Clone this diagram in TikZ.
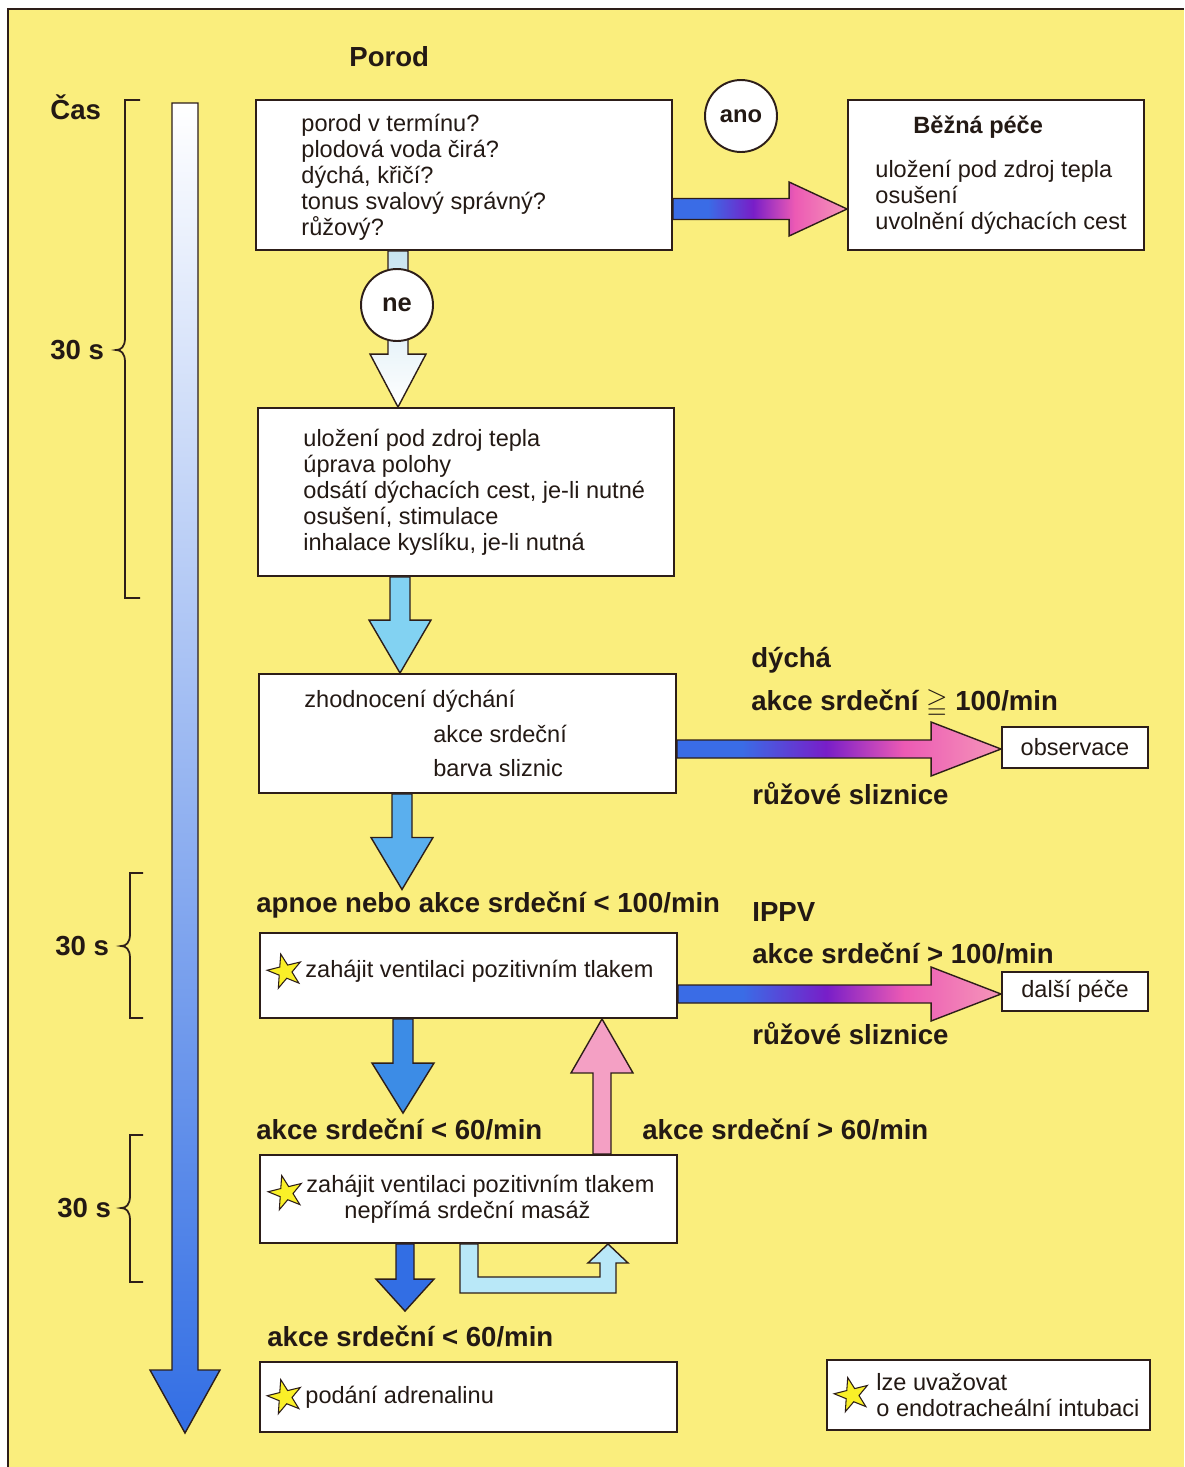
\documentclass[tikz,border=0pt]{standalone}
\usepackage{fontspec}
\setmainfont{Liberation Sans}
\usepackage{amssymb}
\usetikzlibrary{calc,positioning,shapes.geometric}

\definecolor{bgyellow}{RGB}{250,238,125}
\definecolor{edge}{RGB}{45,30,25}
\definecolor{ink}{RGB}{35,25,20}
\definecolor{arrblue}{RGB}{58,108,230}
\definecolor{arrpurple}{RGB}{120,30,200}
\definecolor{arrpink}{RGB}{236,90,180}
\definecolor{arrrose}{RGB}{245,150,185}
\definecolor{paleblue}{RGB}{200,228,240}
\definecolor{skyblue}{RGB}{130,210,242}
\definecolor{midblue}{RGB}{90,175,238}
\definecolor{deepblue}{RGB}{60,140,230}
\definecolor{darkblue}{RGB}{50,110,228}
\definecolor{loopblue}{RGB}{185,232,248}
\definecolor{uppink}{RGB}{244,160,196}
\definecolor{stargold}{RGB}{250,240,40}

\pgfdeclarehorizontalshading{bluepink}{100bp}{color(0bp)=(arrblue); color(35bp)=(arrblue); color(48bp)=(arrpurple); color(60bp)=(arrpink); color(75bp)=(arrrose); color(100bp)=(arrrose)}

% fat arrows: [style]{start}{tip}{head length}{shaft half}{head half}
\newcommand{\vfat}[6][]{%
  \draw[fatline,#1] ($(#2)+(-#5,0)$) -- ($(#3)+(-#5,{-(#4)})$) -- ($(#3)+(-#6,{-(#4)})$) -- (#3)
    -- ($(#3)+(#6,{-(#4)})$) -- ($(#3)+(#5,{-(#4)})$) -- ($(#2)+(#5,0)$) -- cycle;}
\newcommand{\hfat}[6][]{%
  \draw[fatline,#1] ($(#2)+(0,-#5)$) -- ($(#3)+({-(#4)},-#5)$) -- ($(#3)+({-(#4)},-#6)$) -- (#3)
    -- ($(#3)+({-(#4)},#6)$) -- ($(#3)+({-(#4)},#5)$) -- ($(#2)+(0,#5)$) -- cycle;}

\tikzset{
  box/.style={draw=edge, line width=1.1pt, fill=white, inner sep=0pt, text=ink,
    font=\fontsize{13.4}{14.8}\selectfont},
  txt/.style={inner sep=0pt, align=left, text=ink, font=\fontsize{13.4}{14.8}\selectfont},
  lbl/.style={inner sep=0pt, anchor=west, text=ink, font=\bfseries\fontsize{15.7}{18}\selectfont},
  yesno/.style={circle, draw=edge, line width=1.1pt, fill=white, minimum size=1.44cm,
    inner sep=0pt, text=ink, font=\bfseries\fontsize{13.5}{15}\selectfont},
  starsym/.style={star, star points=5, star point ratio=2.6, minimum size=0.72cm, inner sep=0pt,
    fill=stargold, draw=edge, line width=0.6pt, rotate=14},
  fatline/.style={draw=edge, line width=0.8pt},
  bracket/.style={draw=edge, line width=1pt}
}

\begin{document}
\begin{tikzpicture}[x=0.02cm, y=-0.02cm]
\useasboundingbox (0,0) rectangle (1184,1467);
\fill[white] (0,0) rectangle (1184,1467);
\fill[bgyellow] (8,9) rectangle (1184,1467);
\draw[edge, line width=1pt] (8,1467) -- (8,9) -- (1184,9);

% time axis
\draw[fatline, top color=white, middle color={rgb,255:red,150;green,200;blue,242}, bottom color=darkblue]
  (172,103) -- (172,1370) -- (150,1370) -- (185,1433) -- (220,1370) -- (198,1370) -- (198,103) -- cycle;
\node[lbl] (cas) at (50,107) {Čas};
\node[lbl] (t1) at (50,350) {30 s};
\node[lbl] (t2) at (55,946) {30 s};
\node[lbl] (t3) at (57,1208) {30 s};
\draw[bracket] (140,100) -- (125,100) -- (125,338) .. controls (125,347) and (121,350) .. (116,350)
  .. controls (121,350) and (125,353) .. (125,362) -- (125,598) -- (140,598);
\draw[bracket] (143,873) -- (130,873) -- (130,934) .. controls (130,943) and (126,946) .. (121,946)
  .. controls (126,946) and (130,949) .. (130,958) -- (130,1018) -- (143,1018);
\draw[bracket] (143,1135) -- (130,1135) -- (130,1196) .. controls (130,1205) and (126,1208) .. (121,1208)
  .. controls (126,1208) and (130,1211) .. (130,1220) -- (130,1282) -- (143,1282);

% boxes
\node[lbl] (porod) at (349,57) {Porod};
\node[box, minimum width=8.32cm, minimum height=3cm] (q) at (464,175) {};
\node[txt, right=0.92cm of q.west, yshift=-0.05cm] (qt) {porod v termínu?\\plodová voda čirá?\\dýchá, křičí?\\tonus svalový správný?\\růžový?};
\node[box, minimum width=5.92cm, minimum height=3cm] (bez) at (996,175) {};
\node[txt, right=0.56cm of bez.west] (bezt) {\hspace*{0.76cm}\textbf{Běžná péče}\\[10pt]uložení pod zdroj tepla\\osušení\\uvolnění dýchacích cest};
\node[box, minimum width=8.32cm, minimum height=3.36cm] (b2) at (466,492) {};
\node[txt, right=0.92cm of b2.west] (b2t) {uložení pod zdroj tepla\\úprava polohy\\odsátí dýchacích cest, je-li nutné\\osušení, stimulace\\inhalace kyslíku, je-li nutná};
\node[box, minimum width=8.34cm, minimum height=2.38cm] (b3) at (467.5,733.5) {};
\node[txt, right=0.92cm of b3.west] (b3t) {zhodnocení dýchání\\[4.8pt]\hspace*{2.58cm}akce srdeční\\[4.8pt]\hspace*{2.58cm}barva sliznic};
\node[box, minimum width=2.92cm, minimum height=0.82cm] (obs) at (1075,747.5) {observace};
\node[box, minimum width=8.34cm, minimum height=1.7cm] (b4) at (468.5,975.5) {};
\node[starsym] (s4) at ($(b4.west)+(26,-4)$) {};
\node[txt, right=0.92cm of b4.west, yshift=0.08cm] (b4t) {zahájit ventilaci pozitivním tlakem};
\node[box, minimum width=2.92cm, minimum height=0.78cm] (dal) at (1075,991.5) {další péče};
\node[box, minimum width=8.34cm, minimum height=1.76cm] (b5) at (468.5,1199) {};
\node[starsym] (s5) at ($(b5.west)+(27,-6)$) {};
\node[txt, right=0.94cm of b5.west] (b5t) {zahájit ventilaci pozitivním tlakem\\\hspace*{0.76cm}nepřímá srdeční masáž};
\node[box, minimum width=8.34cm, minimum height=1.4cm] (b6) at (468.5,1397) {};
\node[starsym] (s6) at ($(b6.west)+(26,0)$) {};
\node[txt, right=0.92cm of b6.west] (b6t) {podání adrenalinu};
\node[box, minimum width=6.46cm, minimum height=1.4cm] (leg) at (988.5,1395) {};
\node[starsym] (sl) at ($(leg.west)+(26,0)$) {};
\node[txt, right=1.0cm of leg.west] (legt) {lze uvažovat\\o endotracheální intubaci};

% labels
\node[lbl] (dycha) at (751,660) {dýchá};
\node[lbl] (ge100) at (751,704) {akce srdeční $\geqq$ 100/min};
\node[lbl] (ruz1) at (752,794) {růžové sliznice};
\node[lbl] (apnoe) at (256,905) {apnoe nebo akce srdeční < 100/min};
\node[lbl] (ippv) at (752,912) {IPPV};
\node[lbl] (gt100) at (752,953) {akce srdeční > 100/min};
\node[lbl] (ruz2) at (752,1034) {růžové sliznice};
\node[lbl] (lt60a) at (256,1129) {akce srdeční < 60/min};
\node[lbl] (gt60) at (642,1129) {akce srdeční > 60/min};
\node[lbl] (lt60b) at (267,1336) {akce srdeční < 60/min};

% arrows
\coordinate (ya) at (q.east |- 0,209);
\coordinate (yb) at (bez.west |- 0,209);
\hfat[shade, shading=bluepink]{ya}{yb}{58}{10.5}{27}
\coordinate (oa) at (b3.east |- 0,749);
\coordinate (ob) at (obs.west |- 0,749);
\hfat[shade, shading=bluepink]{oa}{ob}{70}{9}{27}
\coordinate (da) at (b4.east |- 0,994);
\coordinate (db) at (dal.west |- 0,994);
\hfat[shade, shading=bluepink]{da}{db}{70}{9}{27}

\coordinate (na) at (398,0 |- q.south);
\coordinate (nb) at (398,0 |- b2.north);
\vfat[top color=paleblue, bottom color=white]{na}{nb}{53}{10}{28}
\node[yesno] (ne) at (397,305) {\fontsize{14.5}{16}\selectfont ne};
\node[yesno] (ano) at (741,116) {ano};
\coordinate (c2) at (400,0 |- b2.south);
\coordinate (c3) at (400,0 |- b3.north);
\vfat[fill=skyblue]{c2}{c3}{53}{10}{31}
\coordinate (c4) at (402,0 |- b3.south);
\coordinate (c5) at ($(402,0 |- apnoe.north)+(0,-2)$);
\vfat[fill=midblue]{c4}{c5}{52}{10}{31}
\coordinate (c6) at (403,0 |- b4.south);
\coordinate (c7) at ($(403,0 |- lt60a.north)+(0,-5)$);
\vfat[fill=deepblue]{c6}{c7}{50}{10}{31}
\coordinate (c8) at (405,0 |- b5.south);
\coordinate (c9) at ($(405,0 |- lt60b.north)+(0,-14)$);
\vfat[fill=darkblue]{c8}{c9}{32}{9}{29}
\coordinate (pa) at (602,0 |- b5.north);
\coordinate (pb) at (602,0 |- b4.south);
\vfat[fill=uppink]{pa}{pb}{-54}{9}{31}
\coordinate (lpa) at (469,0 |- b5.south);
\coordinate (lpb) at (608,0 |- b5.south);
\draw[fatline, fill=loopblue] ($(lpa)+(-9,0)$) -- ($(lpa)+(-9,49)$) -- ($(lpb)+(8,49)$) -- ($(lpb)+(8,19)$)
  -- ($(lpb)+(20,19)$) -- (lpb) -- ($(lpb)+(-20,19)$) -- ($(lpb)+(-8,19)$) -- ($(lpb)+(-8,33)$)
  -- ($(lpa)+(9,33)$) -- ($(lpa)+(9,0)$) -- cycle;
\end{tikzpicture}
\end{document}
